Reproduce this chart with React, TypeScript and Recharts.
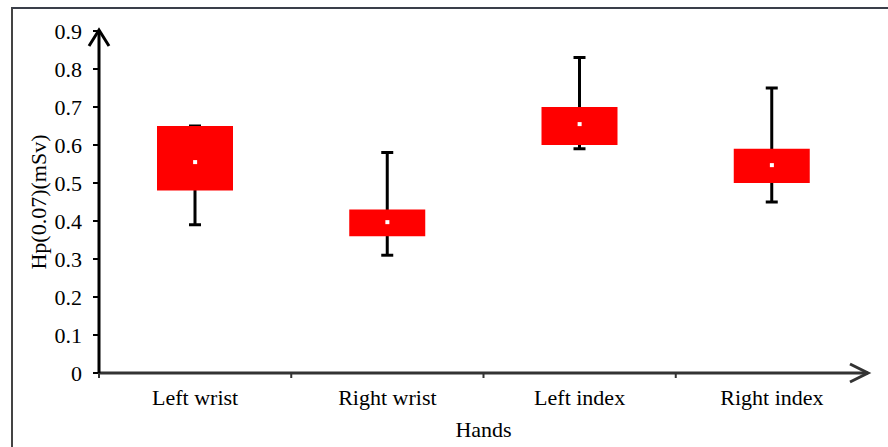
import React from 'react';
import { ComposedChart, Bar, Scatter, XAxis, YAxis, Customized } from 'recharts';

const categories = ['Left wrist', 'Right wrist', 'Left index', 'Right index'];
const whiskerLow = [0.39, 0.31, 0.59, 0.45];
const boxLow = [0.48, 0.36, 0.6, 0.5];
const boxHigh = [0.65, 0.43, 0.7, 0.59];
const whiskerHigh = [0.65, 0.58, 0.83, 0.75];
const means = [0.555, 0.397, 0.655, 0.547];
const yTicks = [0, 0.1, 0.2, 0.3, 0.4, 0.5, 0.6, 0.7, 0.8, 0.9];
const xTitle = 'Hands';
const yTitle = 'Hp(0.07)(mSv)';

const data = categories.map((name, i) => ({
  name,
  whisker: [whiskerLow[i], whiskerHigh[i]],
  box: [boxLow[i], boxHigh[i]],
  mean: means[i],
}));

const W = 888;
const H = 447;
const MARGIN = { top: 31, right: 20, bottom: 0, left: 39 };
const Y_AXIS_W = 60;
const X_AXIS_H = 74;
const PLOT_L = MARGIN.left + Y_AXIS_W;
const PLOT_R = W - MARGIN.right;
const PLOT_T = MARGIN.top;
const PLOT_B = H - MARGIN.bottom - X_AXIS_H;
const BAND = (PLOT_R - PLOT_L) / categories.length;
const FONT = '"Liberation Serif", "Times New Roman", serif';

function XTick(props: any) {
  const { x, y, payload } = props;
  return (
    <g>
      <line x1={x - BAND / 2} x2={x - BAND / 2} y1={y} y2={y + 5} stroke="#333" strokeWidth={2} />
      <text x={x} y={y + 32} textAnchor="middle" fontSize={22} fontFamily={FONT} fill="#000">
        {payload.value}
      </text>
    </g>
  );
}

function Whisker(props: any) {
  const { x, y, width, height } = props;
  const cx = x + width / 2;
  const top = Math.min(y, y + height);
  const bot = Math.max(y, y + height);
  return (
    <g stroke="#000" strokeWidth={3}>
      <line x1={cx} x2={cx} y1={top} y2={bot} />
      <line x1={cx - 6} x2={cx + 6} y1={top} y2={top} />
      <line x1={cx - 6} x2={cx + 6} y1={bot} y2={bot} />
    </g>
  );
}

function MeanDot(props: any) {
  const { cx, cy } = props;
  return <rect x={cx - 2} y={cy - 2} width={4} height={4} fill="#fff" />;
}

function Decorations() {
  return (
    <g>
      <polyline
        points={`${PLOT_L - 10},${PLOT_T + 15} ${PLOT_L},${PLOT_T - 1} ${PLOT_L + 10},${PLOT_T + 15}`}
        fill="none"
        stroke="#000"
        strokeWidth={3}
      />
      <polyline
        points={`${PLOT_R - 18},${PLOT_B - 9} ${PLOT_R},${PLOT_B} ${PLOT_R - 18},${PLOT_B + 9}`}
        fill="none"
        stroke="#333"
        strokeWidth={3}
      />
      <text x={(PLOT_L + PLOT_R) / 2} y={PLOT_B + 64} textAnchor="middle" fontSize={22} fontFamily={FONT} fill="#000">
        {xTitle}
      </text>
      <text
        x={46}
        y={(PLOT_T + PLOT_B) / 2}
        transform={`rotate(-90, 46, ${(PLOT_T + PLOT_B) / 2})`}
        textAnchor="middle"
        fontSize={22}
        fontFamily={FONT}
        fill="#000"
      >
        {yTitle}
      </text>
    </g>
  );
}

export default function App() {
  return (
    <div style={{ position: 'absolute', left: 0, top: 0, width: W, height: H, background: '#fff' }}>
      <div
        style={{
          position: 'absolute',
          left: 11,
          top: 7,
          width: W - 13,
          height: H,
          borderLeft: '2px solid #444',
          borderTop: '2px solid #3a3f4a',
          borderRight: '1px solid #ccc',
        }}
      />
      <div style={{ position: 'absolute', left: 0, top: 0 }}>
        <ComposedChart width={W} height={H} data={data} margin={MARGIN}>
          <XAxis
            xAxisId="a"
            dataKey="name"
            type="category"
            height={X_AXIS_H}
            axisLine={{ stroke: '#333', strokeWidth: 3 }}
            tickLine={false}
            tickSize={0}
            tickMargin={0}
            tick={<XTick />}
            interval={0}
          />
          <XAxis xAxisId="b" dataKey="name" type="category" hide />
          <YAxis
            width={Y_AXIS_W}
            domain={[0, 0.9]}
            ticks={yTicks}
            type="number"
            axisLine={{ stroke: '#000', strokeWidth: 3 }}
            tickLine={{ stroke: '#000', strokeWidth: 2 }}
            tickSize={6}
            tickMargin={11}
            tick={{ fontSize: 22, fontFamily: FONT, fill: '#000' }}
            allowDataOverflow
          />
          <Bar xAxisId="b" dataKey="whisker" barSize={20} shape={<Whisker />} isAnimationActive={false} />
          <Bar xAxisId="a" dataKey="box" barSize={76} fill="#ff0000" isAnimationActive={false} />
          <Scatter xAxisId="a" dataKey="mean" shape={<MeanDot />} isAnimationActive={false} />
          <Customized component={<Decorations />} />
        </ComposedChart>
      </div>
    </div>
  );
}
